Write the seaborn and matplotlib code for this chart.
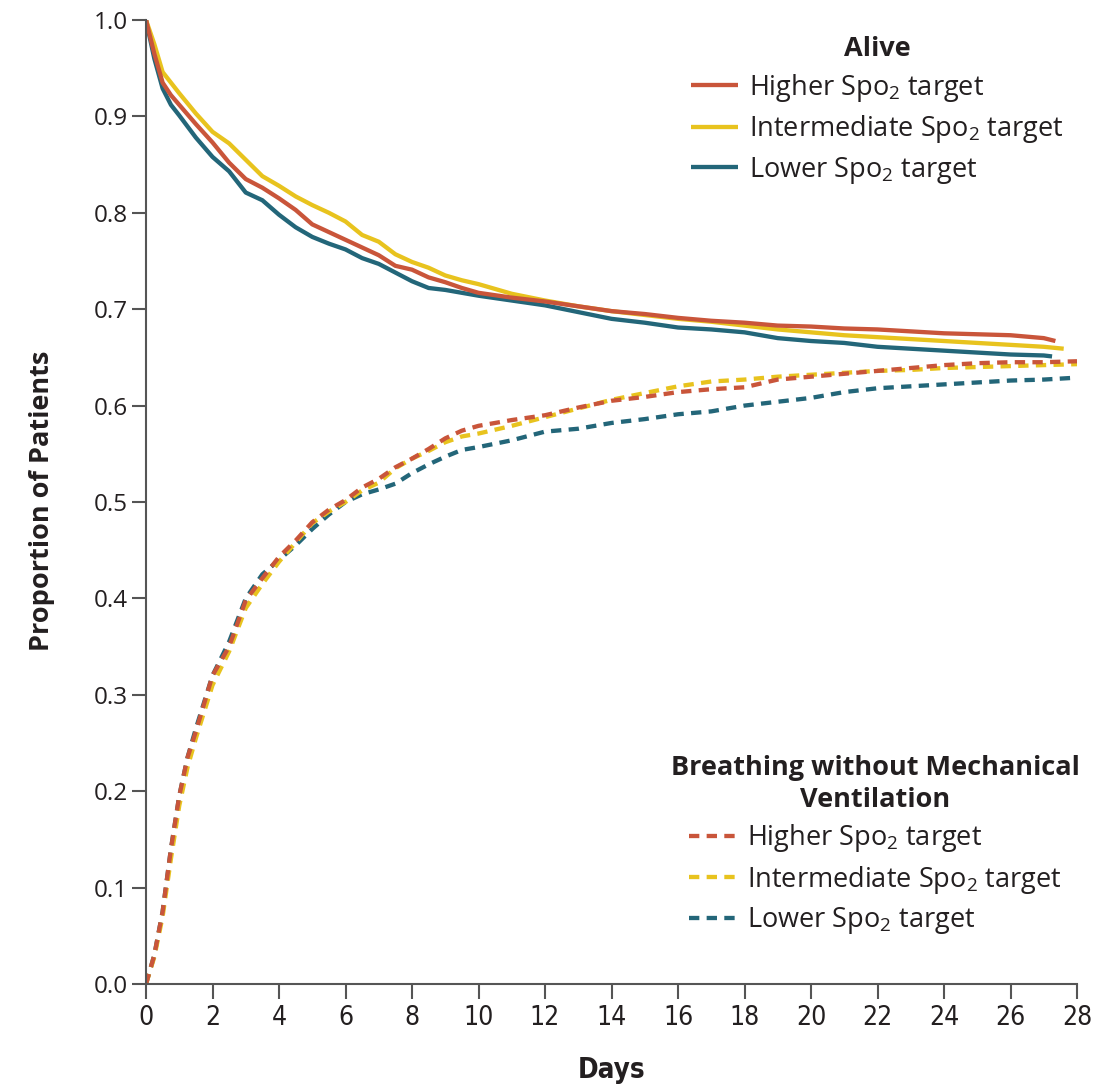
import os
import matplotlib
matplotlib.use("Agg")
import matplotlib.pyplot as plt
from matplotlib.lines import Line2D
from matplotlib import font_manager
from matplotlib.font_manager import FontProperties
import seaborn as sns
import pandas as pd

# ---------------- data ----------------
alive_days = [0, 0.25, 0.5, 0.75, 1, 1.5, 2, 2.5, 3, 3.5, 4, 4.5, 5, 5.5, 6, 6.5, 7, 7.5,
              8, 8.5, 9, 9.5, 10, 11, 12, 13, 14, 15, 16, 17, 18, 19, 20, 21, 22, 23,
              24, 25, 26, 27]
alive_higher = [1.0, 0.965, 0.935, 0.922, 0.912, 0.892, 0.873, 0.852, 0.835, 0.826, 0.815,
                0.803, 0.788, 0.780, 0.772, 0.764, 0.756, 0.745, 0.741, 0.733, 0.728, 0.722,
                0.717, 0.712, 0.708, 0.703, 0.698, 0.695, 0.691, 0.688, 0.686, 0.683, 0.682,
                0.680, 0.679, 0.677, 0.675, 0.674, 0.673, 0.670]
alive_intermediate = [1.0, 0.975, 0.946, 0.935, 0.924, 0.903, 0.884, 0.872, 0.855, 0.838,
                      0.828, 0.817, 0.808, 0.800, 0.791, 0.777, 0.770, 0.757, 0.749, 0.743,
                      0.735, 0.730, 0.726, 0.716, 0.709, 0.703, 0.698, 0.694, 0.690, 0.687,
                      0.683, 0.679, 0.676, 0.673, 0.671, 0.669, 0.667, 0.665, 0.663, 0.661]
alive_lower = [1.0, 0.960, 0.929, 0.912, 0.901, 0.878, 0.858, 0.843, 0.821, 0.813, 0.798,
               0.785, 0.775, 0.768, 0.762, 0.753, 0.747, 0.738, 0.729, 0.722, 0.720, 0.717,
               0.714, 0.709, 0.704, 0.697, 0.690, 0.686, 0.681, 0.679, 0.676, 0.670, 0.667,
               0.665, 0.661, 0.659, 0.657, 0.655, 0.653, 0.652]
alive_end_days = [27.35, 27.6, 27.25]           # higher, intermediate, lower
alive_end_values = [0.667, 0.659, 0.651]

breath_days = [0, 0.25, 0.5, 0.75, 1, 1.25, 1.5, 2, 2.5, 3, 3.5, 4, 4.5, 5, 5.5, 6, 6.5, 7,
               7.5, 8, 8.5, 9, 9.5, 10, 11, 12, 13, 14, 15, 16, 17, 18, 19, 20, 21, 22, 23,
               24, 25, 26, 27, 28]
breath_higher = [0.0, 0.030, 0.075, 0.140, 0.195, 0.235, 0.262, 0.320, 0.350, 0.398, 0.421,
                 0.443, 0.460, 0.479, 0.492, 0.502, 0.515, 0.524, 0.536, 0.545, 0.555, 0.566,
                 0.574, 0.579, 0.585, 0.590, 0.598, 0.605, 0.609, 0.614, 0.617, 0.619, 0.627,
                 0.630, 0.633, 0.636, 0.639, 0.642, 0.644, 0.645, 0.645, 0.646]
breath_intermediate = [0.0, 0.028, 0.070, 0.130, 0.185, 0.225, 0.255, 0.310, 0.345, 0.390,
                       0.415, 0.438, 0.458, 0.478, 0.490, 0.500, 0.512, 0.520, 0.535, 0.545,
                       0.553, 0.562, 0.568, 0.571, 0.579, 0.588, 0.597, 0.606, 0.613, 0.620,
                       0.625, 0.627, 0.630, 0.632, 0.634, 0.636, 0.637, 0.639, 0.640, 0.641,
                       0.642, 0.643]
breath_lower = [0.0, 0.030, 0.075, 0.140, 0.195, 0.235, 0.265, 0.320, 0.355, 0.400, 0.425,
                0.440, 0.455, 0.472, 0.487, 0.500, 0.508, 0.513, 0.519, 0.530, 0.539, 0.547,
                0.554, 0.557, 0.564, 0.573, 0.576, 0.582, 0.586, 0.591, 0.594, 0.600, 0.604,
                0.608, 0.614, 0.618, 0.620, 0.622, 0.624, 0.626, 0.627, 0.629]

groups = ["Higher", "Intermediate", "Lower"]
group_labels = ["Higher Spo$_2$ target", "Intermediate Spo$_2$ target", "Lower Spo$_2$ target"]
x_ticks = list(range(0, 29, 2))
y_ticks = [round(0.1 * i, 1) for i in range(11)]

# ---------------- styling ----------------
colors = {"Higher": "#C9553A", "Intermediate": "#E8C31E", "Lower": "#236679"}
axis_color = "#555555"
text_color = "#231F20"

sns.set_theme(style="white")
ttf = font_manager.fontManager.ttflist
avail = {f.name for f in ttf}
main_font = "Open Sans" if "Open Sans" in avail else "DejaVu Sans"
plt.rcParams["font.family"] = [main_font, "DejaVu Sans"]
plt.rcParams["mathtext.default"] = "regular"
plt.rcParams["text.color"] = text_color


def find_condensed(weight):
    """Find an installed condensed / narrow face, closest to the wanted weight."""
    best = None
    for f in ttf:
        base = os.path.basename(f.fname)
        is_cond = ("condensed" in str(f.stretch).lower() or "Narrow" in f.name
                   or "Condensed" in f.name or "Condensed" in base or "Narrow" in base)
        if not is_cond or f.style != "normal" or "Mono" in f.name or "Serif" in f.name:
            continue
        if "SemiCondensed" in base or "semi" in str(f.stretch).lower():
            continue
        w = f.weight if isinstance(f.weight, int) else (700 if "bold" in str(f.weight).lower() else 400)
        score = abs(w - weight)
        if best is None or score < best[0]:
            best = (score, f.fname)
    return best[1] if best else None


cond_reg = find_condensed(400)
cond_bold = find_condensed(700)


def fp(path, size, weight="normal"):
    if path:
        return FontProperties(fname=path, size=size)
    return FontProperties(family=main_font, size=size, weight=weight)


# ---------------- long-form table ----------------
rows = []
alive_series = [alive_higher, alive_intermediate, alive_lower]
breath_series = [breath_higher, breath_intermediate, breath_lower]
for gi, g in enumerate(groups):
    for d, v in zip(alive_days + [alive_end_days[gi]], alive_series[gi] + [alive_end_values[gi]]):
        rows.append({"day": d, "value": v, "group": g, "outcome": "Alive"})
    for d, v in zip(breath_days, breath_series[gi]):
        rows.append({"day": d, "value": v, "group": g, "outcome": "Breathing"})
df = pd.DataFrame(rows)

fig = plt.figure(figsize=(11.2, 10.89), dpi=100)
ax = fig.add_axes([146 / 1120, 1 - 984 / 1089, 931 / 1120, 964 / 1089])

lw = 3.1
dash = (2.4, 1.7)
sns.lineplot(data=df, x="day", y="value", hue="group", style="outcome",
             hue_order=["Lower", "Intermediate", "Higher"], palette=colors,
             style_order=["Alive", "Breathing"], dashes={"Alive": "", "Breathing": dash},
             linewidth=lw, legend=False, estimator=None, sort=True, ax=ax)
for ln in ax.lines:
    ln.set_dash_capstyle("butt")
    ln.set_solid_capstyle("butt")

ax.set_xlim(0, 28)
ax.set_ylim(0, 1.0)
ax.set_xticks(x_ticks)
ax.set_xticklabels([str(t) for t in x_ticks], fontproperties=fp(cond_reg, 19))
ax.set_yticks(y_ticks)
ax.set_yticklabels([f"{t:.1f}" for t in y_ticks], fontsize=17.5)
for s in ["top", "right"]:
    ax.spines[s].set_visible(False)
for s in ["left", "bottom"]:
    ax.spines[s].set_color(axis_color)
    ax.spines[s].set_linewidth(1.5)
ax.tick_params(axis="x", direction="out", length=11, width=1.5, color=axis_color,
               pad=4, labelcolor=text_color, bottom=True)
ax.tick_params(axis="y", direction="out", length=10, width=1.5, color=axis_color,
               pad=3, labelcolor=text_color, left=True)
ax.grid(False)

ax.set_xlabel("Days", fontproperties=fp(cond_bold, 20, "bold"), color=text_color)
ax.set_ylabel("Proportion of Patients", fontsize=19.5, fontweight="bold", color=text_color)
ax.xaxis.set_label_coords(0.5005, -0.075)
ax.yaxis.set_label_coords(-0.098, 0.501)

# ---------------- legends ----------------
solid_handles = [Line2D([], [], color=colors[g], lw=lw, solid_capstyle="butt") for g in groups]
dash_handles = [Line2D([], [], color=colors[g], lw=lw, dashes=dash, dash_capstyle="butt")
                for g in groups]
leg_kw = dict(frameon=False, fontsize=19.5, handlelength=1.75, handletextpad=0.38,
              labelspacing=0.35, borderpad=0, borderaxespad=0, title_fontsize=19.5)
leg1 = ax.legend(solid_handles, group_labels, title="Alive", loc="upper right",
                 bbox_to_anchor=(0.985, 0.983), **leg_kw)
leg1.get_title().set_fontweight("bold")
leg1.get_title().set_color(text_color)
ax.add_artist(leg1)
leg2 = ax.legend(dash_handles, group_labels, title="Breathing without Mechanical\nVentilation",
                 loc="upper right", bbox_to_anchor=(1.003, 0.238), **leg_kw)
leg2.get_title().set_fontweight("bold")
leg2.get_title().set_color(text_color)
leg2.get_title().set_multialignment("center")
leg2.get_title().set_linespacing(1.3)

fig.savefig("out.png", dpi=100)
